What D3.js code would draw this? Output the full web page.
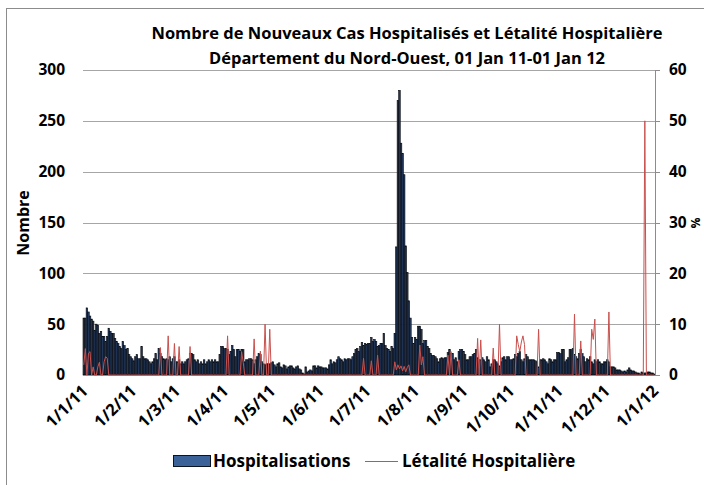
<!DOCTYPE html>
<html>
<head>
<meta charset="utf-8">
<script src="https://cdn.jsdelivr.net/npm/d3@7"></script>
<style>
  body { margin: 0; background: #fff; }
  text { font-family: "Open Sans", sans-serif; font-weight: bold; fill: #000; }
</style>
</head>
<body>
<svg width="704" height="485"></svg>
<script>
// daily values, 1 Jan 2011 -> 1 Jan 2012 (366 days)
var hospitalisations = [
  56,56,66,62,58,55,53,44,50,49, 41,43,38,38,33,38,46,43,41,41, 36,33,31,28,26,33,29,25,26,20, 18,          // jan
  16,14,18,20,16,16,28,18,16,16, 15,13,11,13,16,21,15,26,21,18, 16,15,16,15,18,13,16,18,                  // feb
  13,13,15,11,13,11,13,15,16,21, 21,20,15,13,15,11,13,11,15,11, 13,15,13,15,13,15,13,13,20,28, 28,          // mar
  26,26,25,20,23,29,25,18,25,25, 23,25,25,13,15,15,16,16,15,11, 15,18,21,20,13,11,10,11,11,11,             // apr
  12,13,10,8,11,12,8,7,10,9, 6,8,9,9,7,6,8,9,6,5, 2,1,8,3,4,5,4,9,9,7, 9,                                   // may
  8,8,7,7,7,6,10,15,11,13, 12,15,18,16,15,13,16,15,16,16, 15,18,21,25,26,23,28,32,29,31,                   // jun
  30,31,31,37,33,35,33,28,29,31, 31,41,29,26,25,23,28,26,41,126, 270,280,228,218,197,127,101,73,56,37, 31, // jul
  37,35,48,48,45,31,34,34,28,26, 21,19,19,18,16,13,16,17,16,17, 17,22,25,21,21,15,17,13,23,25, 25,          // aug
  23,20,15,15,18,18,20,21,25,17, 15,15,17,15,13,18,15,8,11,15, 15,13,11,9,13,17,18,15,18,18,               // sep
  15,15,16,20,18,21,23,15,13,16, 20,18,15,15,15,15,14,13,8,15, 15,16,15,13,11,16,15,13,15,15, 22,          // oct
  22,21,25,25,13,15,17,25,25,26, 20,18,16,21,25,21,18,13,16,15, 18,13,11,15,13,15,13,11,11,13,             // nov
  13,15,13,8,8,8,7,5,5,5, 4,3,4,3,5,7,5,4,4,3, 2,2,1,3,2,2,2,3,3,2, 2,                                      // dec
  1                                                                                                         // 1 jan 12
];

var letalite = [
  2,5.2,0,4.3,4.6,0,1.6,0,0,1.6, 2.5,0,0,2.6,3.6,3.3,0,0,0,0, 0,0,0,0,0,0,0,0,0,0, 0,
  0,0,0,0,0,0,0,0,0,0, 0,0,0,0,0,0,0,0,5.4,0, 0,0,0,7.7,0,0,0,6.2,
  0,0,5.6,0,0,0,0,0,0,5.6, 0,0,0,0,0,0,0,0,0,0, 0,0,0,0,0,0,0,0,0,0, 0,
  0,0,7.7,0,0,0,0,0,0,0, 0,4.6,2.5,0,0,0,0,0,0,7.1, 0,0,0,4.7,0,0,10,0,0,9,
  0,0,0,0,0,0,0,0,0,0, 0,0,0,0,0,0,0,0,0,0, 0,0,0,0,0,0,0,0,0,0, 0,
  0,0,0,0,0,0,0,0,0,0, 0,0,0,0,0,0,0,0,0,0, 0,0,0,0,0,0,0,0,3.3,0,
  0,0,0,2.8,0,0,0,3.9,0,0, 0,0,0,0,0,0,0,0,2.6,1.0, 2.0,1.2,1.8,0.8,1.7,0.6,1.5,2.0,0,0, 0,
  0,0,0,5.9,2.0,3.6,0,0,0,0, 0,0,0,0,0,0,0,0,0,0, 0,3.9,0,4.6,0,0,0,0,3.0,0, 0,
  0,0,0,0,0,0,0,0,0,7.2, 0,6.9,0,0,0,0,0,0,0,5.3, 0,0,0,10,0,0,0,0,0,0,
  0,0,0,0,7.7,6.0,4.6,6.5,7.7,6.0, 0,0,0,0,0,0,0,0,9.0,0, 0,0,0,0,0,0,0,0,0,0, 0,
  0,0,0,0,0,0,0,0,0,0, 12,0,0,0,6.7,0,0,0,0,0, 0,9,7,11,0,0,0,0,0,0,
  0,0,12.4,0,0,0,0,0,0,0, 0,0,0,0,0,0,0,0,0,0, 0,0,0,0,0,50,0,0,0,0, 0,
  0
];

var titleLines = ["Nombre de Nouveaux Cas Hospitalisés et Létalité Hospitalière",
                  "Département du Nord-Ouest, 01 Jan 11-01 Jan 12"];
var leftTicks = [0, 50, 100, 150, 200, 250, 300];
var rightTicks = [0, 10, 20, 30, 40, 50, 60];
var seriesNames = ["Hospitalisations", "Létalité Hospitalière"];

var startDay = new Date(2011, 0, 1);
var days = hospitalisations.map((v, i) => d3.timeDay.offset(startDay, i));
var monthStarts = d3.timeMonth.range(startDay, d3.timeDay.offset(days[days.length - 1], 1));
var fmt = d3.timeFormat("%-d/%-m/%y");

var plotLeft = 83, plotRight = 655, plotTop = 70, plotBottom = 375;

var svg = d3.select("svg");

// outer chart frame
svg.append("rect")
  .attr("x", 6.5).attr("y", 8.5).attr("width", 720).attr("height", 500)
  .attr("fill", "none").attr("stroke", "#8c8c8c");

var x = d3.scaleBand().domain(d3.range(hospitalisations.length)).range([plotLeft, plotRight]).padding(0);
var yL = d3.scaleLinear().domain([0, 300]).range([plotBottom, plotTop]);
var yR = d3.scaleLinear().domain([0, 60]).range([plotBottom, plotTop]);
var bw = x.bandwidth();

// gridlines
svg.append("g")
  .selectAll("line")
  .data(leftTicks.slice(1))
  .enter()
  .append("line")
  .attr("x1", plotLeft).attr("x2", plotRight)
  .attr("y1", d => Math.round(yL(d)) + 0.5).attr("y2", d => Math.round(yL(d)) + 0.5)
  .attr("stroke", "#a6a6a6");

// bars
svg.append("g")
  .selectAll("rect")
  .data(hospitalisations)
  .enter()
  .append("rect")
  .attr("x", (d, i) => x(i))
  .attr("width", bw)
  .attr("y", d => yL(d))
  .attr("height", d => plotBottom - yL(d))
  .attr("fill", "#233a5e")
  .attr("stroke", "#05080d")
  .attr("stroke-width", 0.6);

// axes lines
svg.append("line").attr("x1", plotLeft).attr("x2", plotRight + 0.5)
  .attr("y1", plotBottom + 0.5).attr("y2", plotBottom + 0.5).attr("stroke", "#8c8c8c");
svg.append("line").attr("x1", plotRight + 0.5).attr("x2", plotRight + 0.5)
  .attr("y1", plotTop).attr("y2", plotBottom + 0.5).attr("stroke", "#8c8c8c");
svg.append("g")
  .selectAll("line")
  .data(rightTicks)
  .enter()
  .append("line")
  .attr("x1", plotRight).attr("x2", plotRight + 5)
  .attr("y1", d => Math.round(yR(d)) + 0.5).attr("y2", d => Math.round(yR(d)) + 0.5)
  .attr("stroke", "#8c8c8c");

// lethality line
var line = d3.line()
  .x((d, i) => x(i) + bw / 2)
  .y(d => yR(d));
svg.append("path")
  .datum(letalite)
  .attr("d", line)
  .attr("fill", "none")
  .attr("stroke", "#c8504d")
  .attr("stroke-width", 1);

// left tick labels
svg.append("g")
  .selectAll("text")
  .data(leftTicks)
  .enter()
  .append("text")
  .attr("x", 65)
  .attr("y", d => yL(d))
  .attr("dy", "0.35em")
  .style("text-anchor", "end")
  .style("font-size", "15.5px")
  .text(d => d);

// right tick labels
svg.append("g")
  .selectAll("text")
  .data(rightTicks)
  .enter()
  .append("text")
  .attr("x", 669)
  .attr("y", d => yR(d))
  .attr("dy", "0.35em")
  .style("text-anchor", "start")
  .style("font-size", "15.5px")
  .text(d => d);

// date labels
svg.append("g")
  .selectAll("text")
  .data(monthStarts)
  .enter()
  .append("text")
  .attr("transform", d => {
    var i = d3.timeDay.count(startDay, d);
    return "translate(" + (x(i) + bw / 2 + 1) + "," + 388 + ") rotate(-45)";
  })
  .attr("dy", "0.35em")
  .style("text-anchor", "end")
  .style("font-size", "16.5px")
  .text(d => fmt(d));

// axis titles
svg.append("text")
  .attr("transform", "translate(23,223) rotate(-90)")
  .attr("dy", "0.35em")
  .style("text-anchor", "middle")
  .style("font-size", "16px")
  .text("Nombre");
svg.append("text")
  .attr("transform", "translate(694,223) rotate(90)")
  .attr("dy", "0.25em")
  .style("text-anchor", "middle")
  .style("font-size", "12px")
  .text("%");

// title
svg.append("g")
  .selectAll("text")
  .data(titleLines)
  .enter()
  .append("text")
  .attr("x", 407)
  .attr("y", (d, i) => 39 + i * 25)
  .style("text-anchor", "middle")
  .style("font-size", "16.5px")
  .text(d => d);

// legend
var lg = svg.append("g");
lg.append("rect").attr("x", 173.5).attr("y", 455.5).attr("width", 37).attr("height", 11)
  .attr("fill", "#3c629a").attr("stroke", "#0c1421");
lg.append("text").attr("x", 213).attr("y", 461).attr("dy", "0.35em")
  .style("font-size", "17px").text(seriesNames[0]);
lg.append("line").attr("x1", 365).attr("x2", 398).attr("y1", 461.5).attr("y2", 461.5)
  .attr("stroke", "#c8504d");
lg.append("text").attr("x", 402).attr("y", 461).attr("dy", "0.35em")
  .style("font-size", "17px").text(seriesNames[1]);
</script>
</body>
</html>
